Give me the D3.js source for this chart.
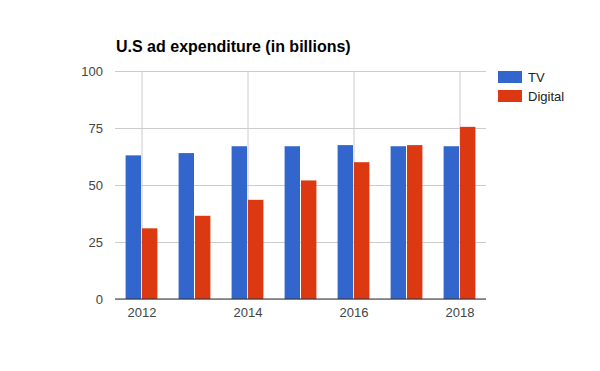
<!DOCTYPE html>
<html><head><meta charset="utf-8">
<script src="https://cdn.jsdelivr.net/npm/d3@7"></script>
<style>body{margin:0;background:#fff}svg{display:block;font-family:Arial,"Liberation Sans",sans-serif}</style>
</head><body><svg id="c" width="600" height="371"></svg>
<script>
const years = [2012, 2013, 2014, 2015, 2016, 2017, 2018];
const tvValues = [63, 64, 67, 67, 67.5, 67, 67];
const digitalValues = [31, 36.5, 43.5, 52, 60, 67.5, 75.5];
const yTicks = [0, 25, 50, 75, 100];
const xTicks = [2012, 2014, 2016, 2018];
const seriesNames = ["TV", "Digital"];
const colors = ["#3366cc", "#dc3912"];

const svg = d3.select("#c");
const x = d3.scaleLinear().domain([2011.5, 2018.5]).range([115, 486]);
const y = d3.scaleLinear().domain([0, 100]).range([299, 71]);

// title
svg.append("text").attr("x", 116).attr("y", 52).attr("font-size", 16).attr("font-weight", "bold")
  .attr("fill", "#000").text("U.S ad expenditure (in billions)");

// horizontal gridlines
const yAxis = d3.axisLeft(y).tickValues(yTicks).tickSize(-(486 - 115)).tickPadding(12);
const gy = svg.append("g").attr("transform", "translate(115,0)").call(yAxis);
gy.select(".domain").remove();
gy.selectAll(".tick line").attr("stroke", "#cccccc");
gy.selectAll(".tick text").attr("font-size", 13).attr("fill", "#444").attr("font-family", "Arial, 'Liberation Sans', sans-serif");

// vertical gridlines + labels
const xAxis = d3.axisBottom(x).tickValues(xTicks).tickFormat(d3.format("d")).tickSize(-(299 - 71)).tickPadding(9);
const gx = svg.append("g").attr("transform", "translate(0,299)").call(xAxis);
gx.select(".domain").remove();
gx.selectAll(".tick line").attr("stroke", "#cccccc");
gx.selectAll(".tick text").attr("font-size", 13).attr("fill", "#444").attr("font-family", "Arial, 'Liberation Sans', sans-serif");

// bars
const bw = x(2012.3) - x(2012) - 0.5;
const data = years.map((yr, i) => ({yr, tv: tvValues[i], dg: digitalValues[i]}));
svg.append("g").selectAll("rect.tv").data(data).join("rect")
  .attr("x", d => x(d.yr) - bw - 0.5).attr("width", bw)
  .attr("y", d => y(d.tv)).attr("height", d => y(0) - y(d.tv)).attr("fill", colors[0]);
svg.append("g").selectAll("rect.dg").data(data).join("rect")
  .attr("x", d => x(d.yr) + 0.5).attr("width", bw)
  .attr("y", d => y(d.dg)).attr("height", d => y(0) - y(d.dg)).attr("fill", colors[1]);

// baseline
svg.append("line").attr("x1", 115).attr("x2", 486).attr("y1", y(0)).attr("y2", y(0))
  .attr("stroke", "#333").attr("stroke-width", 1);

// legend
const lg = svg.append("g");
seriesNames.forEach((n, i) => {
  lg.append("rect").attr("x", 498).attr("y", 71 + i * 19).attr("width", 24).attr("height", 12).attr("fill", colors[i]);
  lg.append("text").attr("x", 528).attr("y", 81.5 + i * 19).attr("font-size", 13).attr("fill", "#222").text(n);
});
</script></body></html>
